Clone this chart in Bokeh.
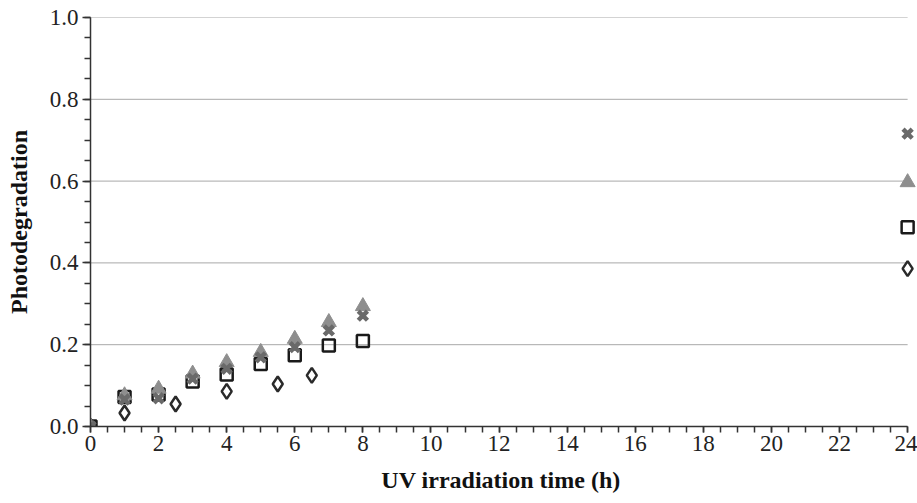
from bokeh.plotting import figure
from bokeh.embed import file_html
from bokeh.resources import INLINE
from bokeh.models import FixedTicker, Range1d, Title, CustomJSTickFormatter

# Data
diamond_x = [0, 1, 2.5, 4, 5.5, 6.5, 24]
diamond_y = [0.0, 0.033, 0.055, 0.086, 0.104, 0.125, 0.386]

square_x = [0, 1, 2, 3, 4, 5, 6, 7, 8, 24]
square_y = [0.0, 0.072, 0.078, 0.110, 0.127, 0.153, 0.174, 0.198, 0.209, 0.487]

triangle_x = [0, 1, 2, 3, 4, 5, 6, 7, 8, 24]
triangle_y = [0.0, 0.076, 0.092, 0.129, 0.157, 0.182, 0.214, 0.255, 0.294, 0.597]

cross_x = [0, 1, 2, 3, 4, 5, 6, 7, 8, 24]
cross_y = [0.0, 0.066, 0.069, 0.117, 0.141, 0.169, 0.194, 0.235, 0.271, 0.716]

x_major = [0, 2, 4, 6, 8, 10, 12, 14, 16, 18, 20, 22, 24]
x_minor = [i * 0.5 for i in range(49)]
y_major = [0.0, 0.2, 0.4, 0.6, 0.8, 1.0]
y_minor = [i * 0.05 for i in range(21)]
y_grid = [0.2, 0.4, 0.6, 0.8, 1.0]

x_title = "UV irradiation time  (h)"
y_title = "Photodegradation"

FONT = "Liberation Serif"
X_MIN, X_MAX = 0, 24

p = figure(width=917, height=503, output_backend="svg", toolbar_location=None,
           x_range=Range1d(X_MIN, 24.29), y_range=Range1d(0, 1.0),
           min_border_left=90, min_border_right=0, min_border_top=17, min_border_bottom=77)
p.outline_line_color = None
p.background_fill_color = "white"

p.xgrid.grid_line_color = None
p.ygrid.grid_line_color = None

# horizontal gridlines ending at the last x tick
p.segment(x0=[X_MIN] * len(y_grid), x1=[X_MAX] * len(y_grid), y0=y_grid, y1=y_grid,
          line_color="#a8a8a8", line_width=1)

for ax in (p.xaxis[0], p.yaxis[0]):
    ax.axis_line_color = "#333333"
    ax.axis_line_width = 1.5
    ax.major_tick_line_color = "#333333"
    ax.minor_tick_line_color = "#333333"
    ax.major_tick_line_width = 1.5
    ax.minor_tick_line_width = 1.5
    ax.major_tick_in = 0
    ax.minor_tick_in = 0
    ax.major_label_text_font = FONT
    ax.major_label_text_font_size = "23px"
    ax.major_label_text_color = "#222222"
    ax.axis_label_text_font = FONT
    ax.axis_label_text_font_size = "24px"
    ax.axis_label_text_font_style = "bold"
    ax.axis_label_text_color = "#111111"

p.xaxis.bounds = (X_MIN, X_MAX)
p.xaxis.ticker = FixedTicker(ticks=x_major, minor_ticks=x_minor)
p.yaxis.ticker = FixedTicker(ticks=y_major, minor_ticks=y_minor)
p.yaxis.formatter = CustomJSTickFormatter(code="return tick.toFixed(1);")

p.xaxis.major_tick_out = 6
p.xaxis.minor_tick_out = 6
p.yaxis.major_tick_out = 8
p.yaxis.minor_tick_out = 6
p.xaxis.major_label_standoff = 3
p.yaxis.major_label_standoff = 4
p.yaxis.axis_label = y_title
p.yaxis.axis_label_standoff = 15

p.add_layout(Title(text=x_title, text_font=FONT, text_font_size="24px",
                   text_font_style="bold", text_color="#111111",
                   align="center", standoff=22, offset=0), "below")

p.scatter(diamond_x, diamond_y, marker="diamond", size=15, fill_color=None,
          line_color="#2a2a2a", line_width=2.5)
p.scatter(square_x, square_y, marker="square", size=12, fill_color=None,
          line_color="#1a1a1a", line_width=2.5)
p.scatter(triangle_x, triangle_y, marker="triangle", size=15, fill_color="#8e8e8e",
          line_color="#8e8e8e", line_width=1)
p.scatter(cross_x, cross_y, marker="x", size=13, line_color="#6a6a6a", line_width=4.5)

open("out.html", "w").write(file_html(p, INLINE))
